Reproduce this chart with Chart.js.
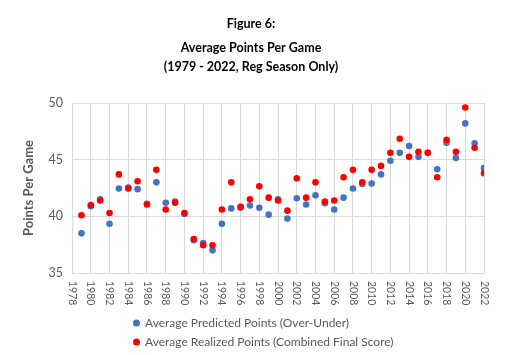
<!DOCTYPE html>
<html>
<head>
<meta charset="utf-8">
<script src="https://cdn.jsdelivr.net/npm/chart.js@4"></script>
<style>
  html, body { margin: 0; padding: 0; background: #ffffff; }
  #wrap { width: 508px; height: 355px; }
</style>
</head>
<body>
<div id="wrap"><canvas id="c" width="508" height="355"></canvas></div>
<script>
const years = [1979,1980,1981,1982,1983,1984,1985,1986,1987,1988,1989,1990,1991,1992,1993,1994,1995,1996,1997,1998,1999,2000,2001,2002,2003,2004,2005,2006,2007,2008,2009,2010,2011,2012,2013,2014,2015,2016,2017,2018,2019,2020,2021,2022];
const predicted = [38.5,40.9,41.5,39.35,42.45,42.55,42.4,41.1,43.0,41.2,41.3,40.2,37.9,37.65,37.0,39.35,40.7,40.75,40.95,40.75,40.15,41.5,39.8,41.6,41.05,41.85,41.15,40.6,41.65,42.45,42.85,42.9,43.7,44.9,45.6,46.2,45.25,45.6,44.15,46.5,45.15,48.2,46.45,44.25];
const realized = [40.1,41.0,41.4,40.3,43.7,42.45,43.1,41.05,44.1,40.6,41.2,40.3,38.0,37.45,37.45,40.6,43.0,40.85,41.5,42.65,41.65,41.4,40.5,43.35,41.65,43.0,41.3,41.4,43.45,44.1,43.0,44.1,44.45,45.6,46.85,45.25,45.7,45.6,43.45,46.75,45.7,49.6,46.05,43.8];
const seriesNames = ["Average Predicted Points (Over-Under)", "Average Realized Points (Combined Final Score)"];
const titleText = "Figure 6:";
const subtitleLines = ["Average Points Per Game", "(1979 - 2022, Reg Season Only)"];
const yTitle = "Points Per Game";

const FONT = "Lato";
const GRAY = "#595959";

// Draw x tick labels rotated clockwise (reading top to bottom), positioned by the library's scale
const clockwiseTicks = {
  id: 'clockwiseTicks',
  afterDraw(chart) {
    const sc = chart.scales.x;
    const ctx = chart.ctx;
    ctx.save();
    ctx.fillStyle = GRAY;
    ctx.font = "10.5px " + FONT;
    ctx.textAlign = 'left';
    ctx.textBaseline = 'middle';
    sc.ticks.forEach(t => {
      const x = sc.getPixelForValue(t.value);
      ctx.save();
      ctx.translate(x, sc.top + 8);
      ctx.rotate(Math.PI / 2);
      ctx.fillText(String(t.value), 0, 0);
      ctx.restore();
    });
    ctx.restore();
  }
};

// Shift the two-row legend block so rows are left aligned at the reference position
const legendShift = {
  id: 'legendShift',
  afterLayout(chart) {
    const lg = chart.legend;
    const target = 137;
    const dx = target - (lg.left + 10);
    lg.left += dx;
    lg.right += dx;
    lg.top += 3;
    lg.bottom += 3;
  }
};

new Chart(document.getElementById('c'), {
  type: 'scatter',
  data: {
    datasets: [
      {
        label: seriesNames[0],
        data: years.map((y, i) => ({ x: y, y: predicted[i] })),
        backgroundColor: '#4472c4',
        borderColor: '#4472c4',
        pointRadius: 3.3,
        borderWidth: 0,
        order: 1
      },
      {
        label: seriesNames[1],
        data: years.map((y, i) => ({ x: y, y: realized[i] })),
        backgroundColor: '#ff0000',
        borderColor: '#ff0000',
        pointRadius: 3.3,
        borderWidth: 0,
        order: 0
      }
    ]
  },
  options: {
    responsive: false,
    animation: false,
    layout: { padding: { left: 18, right: 24, top: 12, bottom: 0 } },
    plugins: {
      tooltip: { enabled: false },
      title: {
        display: true,
        text: titleText,
        color: '#000000',
        font: { family: FONT, size: 12.5, weight: 'bold' },
        padding: { top: 4, bottom: 7 }
      },
      subtitle: {
        display: true,
        text: subtitleLines,
        color: '#000000',
        font: { family: FONT, size: 12.5, weight: 'bold', lineHeight: '19px' },
        padding: { top: 0, bottom: 27 }
      },
      legend: {
        position: 'bottom',
        align: 'start',
        fullSize: false,
        labels: {
          usePointStyle: true,
          pointStyle: 'circle',
          boxWidth: 5,
          boxHeight: 5,
          padding: 7,
          color: GRAY,
          font: { family: FONT, size: 12 },
          sort: (a, b) => a.datasetIndex - b.datasetIndex
        }
      }
    },
    scales: {
      x: {
        type: 'linear',
        min: 1978,
        max: 2022,
        afterBuildTicks: (s) => { s.ticks = []; for (let v = 1978; v <= 2022; v += 2) s.ticks.push({ value: v }); },
        afterFit: (s) => { s.height = 34; },
        ticks: {
          stepSize: 2,
          color: 'rgba(0,0,0,0)',
          font: { family: FONT, size: 10.5 },
          minRotation: 90,
          maxRotation: 90,
          autoSkip: false,
          padding: 8
        },
        grid: { color: '#d9d9d9', drawTicks: false, lineWidth: 1 },
        border: { display: false }
      },
      y: {
        min: 35,
        max: 50,
        ticks: {
          stepSize: 5,
          color: GRAY,
          font: { family: FONT, size: 12.5 },
          padding: 9
        },
        grid: { color: '#d9d9d9', drawTicks: false, lineWidth: 1 },
        border: { display: false },
        title: {
          display: true,
          text: yTitle,
          color: GRAY,
          font: { family: FONT, size: 13, weight: 'bold' },
          padding: { top: 3, bottom: 3 }
        }
      }
    }
  },
  plugins: [clockwiseTicks, legendShift]
});
</script>
</body>
</html>
